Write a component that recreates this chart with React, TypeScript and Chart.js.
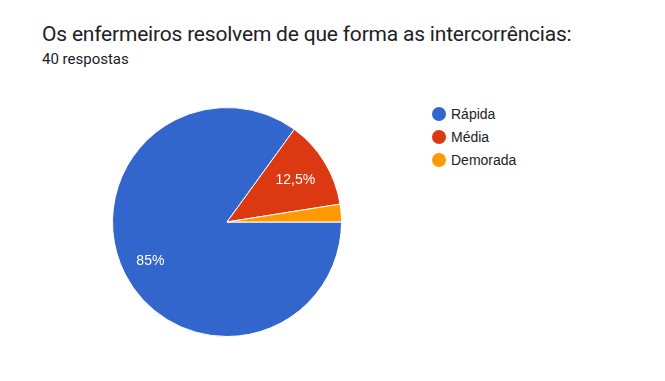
import React, { useEffect, useRef } from "react";
import { Chart, registerables } from "chart.js";

Chart.register(...registerables);

const title = "Os enfermeiros resolvem de que forma as intercorrências:";
const subtitle = "40 respostas";
const categories = ["Rápida", "Média", "Demorada"];
const counts = [34, 5, 1];
const colors = ["#3366cc", "#dc3912", "#ff9900"];

const labelPlugin = {
  id: "sliceLabels",
  afterDatasetsDraw(chart: any) {
    const ctx = chart.ctx;
    const meta = chart.getDatasetMeta(0);
    const data = chart.data.datasets[0].data as number[];
    const total = data.reduce((a, b) => a + b, 0);
    ctx.save();
    ctx.fillStyle = "#ffffff";
    ctx.font = "14px 'Liberation Sans', Arial, sans-serif";
    ctx.textAlign = "center";
    ctx.textBaseline = "middle";
    meta.data.forEach((arc: any, i: number) => {
      const pct = (data[i] / total) * 100;
      if (pct < 5) return;
      const p = arc.getProps(["startAngle", "endAngle", "outerRadius", "x", "y"], true);
      const mid = (p.startAngle + p.endAngle) / 2;
      const txt = (Math.round(pct * 10) / 10).toString().replace(".", ",") + "%";
      const w = ctx.measureText(txt).width;
      const r = p.outerRadius - w / 2 - 14.5;
      ctx.fillText(txt, p.x + Math.cos(mid) * r, p.y + Math.sin(mid) * r);
    });
    ctx.restore();
  },
};

export default function App() {
  const ref = useRef<HTMLCanvasElement>(null);
  useEffect(() => {
    if (!ref.current) return;
    const chart = new Chart(ref.current, {
      type: "pie",
      data: {
        labels: categories,
        datasets: [
          {
            data: counts,
            backgroundColor: colors,
            borderColor: "#ffffff",
            borderWidth: 1,
          },
        ],
      },
      options: {
        animation: false,
        responsive: false,
        rotation: 90,
        layout: { padding: 0 },
        plugins: {
          legend: { display: false },
          tooltip: { enabled: false },
          title: { display: false },
        },
      },
      plugins: [labelPlugin],
    });
    return () => chart.destroy();
  }, []);

  const font = "Roboto, Arial, sans-serif";
  const legendFont = "'Liberation Sans', Arial, sans-serif";
  return (
    <div
      style={{
        position: "fixed",
        left: 0,
        top: 0,
        width: 665,
        height: 381,
        background: "#ffffff",
        overflow: "hidden",
        fontFamily: font,
      }}
    >
      <div
        style={{
          position: "absolute",
          left: 42,
          top: 20,
          fontSize: 21,
          letterSpacing: "-0.2px",
          color: "#202124",
          whiteSpace: "nowrap",
          lineHeight: "28px",
        }}
      >
        {title}
      </div>
      <div
        style={{
          position: "absolute",
          left: 42,
          top: 50,
          fontSize: 15,
          color: "#202124",
          whiteSpace: "nowrap",
          lineHeight: "18px",
        }}
      >
        {subtitle}
      </div>
      <canvas
        ref={ref}
        width={230}
        height={230}
        style={{ position: "absolute", left: 112, top: 107, width: 230, height: 230 }}
      />
      <div style={{ position: "absolute", left: 432, top: 102.5, fontFamily: legendFont }}>
        {categories.map((c, i) => (
          <div
            key={c}
            style={{ display: "flex", alignItems: "center", height: 23, fontSize: 14, color: "#222222" }}
          >
            <span
              style={{
                display: "inline-block",
                width: 14,
                height: 14,
                borderRadius: "50%",
                background: colors[i],
                marginRight: 5,
              }}
            />
            <span>{c}</span>
          </div>
        ))}
      </div>
    </div>
  );
}
